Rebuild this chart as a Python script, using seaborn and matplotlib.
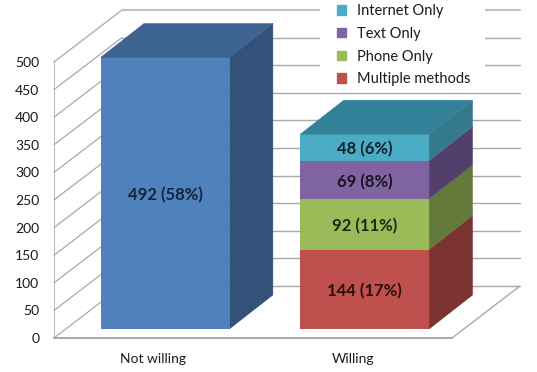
#Import Libraries
import numpy as np
import matplotlib
matplotlib.use("Agg")
import matplotlib.pyplot as plt
import seaborn as sns
from matplotlib.patches import Patch, Polygon, Rectangle

#Chart values
categories = ["Not willing", "Willing"]
not_willing = [492]
not_willing_labels = ["492 (58%)"]
layer_names = ["Multiple methods", "Phone Only", "Text Only", "Internet Only"]
layer_values = [144, 92, 69, 48]
layer_labels = ["144 (17%)", "92 (11%)", "69 (8%)", "48 (6%)"]
y_ticks = [0, 50, 100, 150, 200, 250, 300, 350, 400, 450, 500]

#Colours: front, side, top
blue = ("#4F81BD", "#33527A", "#3D6391")
layer_colors = [
    ("#C0504D", "#7A3331", "#7A3331"),
    ("#9BBB59", "#647A3A", "#647A3A"),
    ("#8064A2", "#533F6B", "#533F6B"),
    ("#4BACC6", "#337A8D", "#338199"),
]
grid_color = "#A8A8A8"

sns.set_theme(style="white")
plt.rcParams["font.family"] = ["Lato", "DejaVu Sans"]

W, H = 537, 372
fig = plt.figure(figsize=(W / 100, H / 100), dpi=100)
#plot box in pixels: left wall front edge to right end of back wall
ax = fig.add_axes([54 / W, 1 - 338 / H, (520 - 54) / W, (338 - 10) / H])

#scales (pixels per unit), the fake 3D depth is given in pixels
sx = 199.7
sy = 0.552
x_lim = ((54 - 165) / sx, (520 - 165) / sx)
y_lim = (0, (338 - 10) / sy)

wall_dx = 68 / sx
wall_dy = 52 / sy
gap_dx = 12 / sx
gap_dy = 9 / sy
bar_dx = 43.5 / sx
bar_dy = 34 / sy

#Bars: the front faces
bar_width = 0.645
sns.barplot(x=categories[:1], y=not_willing, order=categories, color=blue[0],
            width=bar_width, saturation=1, bottom=gap_dy, ax=ax, zorder=3, linewidth=0)
base = gap_dy
for value, colors in zip(layer_values, layer_colors):
    sns.barplot(x=categories[1:], y=[value], order=categories, color=colors[0],
                width=bar_width, saturation=1, bottom=base, ax=ax, zorder=3, linewidth=0)
    base += value

ax.set_xlim(x_lim)
ax.set_ylim(y_lim)

#Side and top faces, taken from the bars that were drawn
face_colors = [blue] + layer_colors
bars = [p for p in ax.patches if p.get_height() > 0]
for i, (bar, colors) in enumerate(zip(bars, face_colors)):
    x0 = bar.get_x()
    x1 = x0 + bar.get_width()
    y0 = bar.get_y()
    y1 = y0 + bar.get_height()
    side = [(x1, y0), (x1 + bar_dx, y0 + bar_dy), (x1 + bar_dx, y1 + bar_dy), (x1, y1)]
    ax.add_patch(Polygon(side, closed=True, fc=colors[1], ec=colors[1], lw=0.3,
                         zorder=3 + i * 0.1, clip_on=False))
    if i == 0 or i == len(bars) - 1:
        top = [(x0, y1), (x0 + bar_dx, y1 + bar_dy), (x1 + bar_dx, y1 + bar_dy), (x1, y1)]
        ax.add_patch(Polygon(top, closed=True, fc=colors[2], ec=colors[2], lw=0.3,
                             zorder=3.5, clip_on=False))

#Value labels in the middle of each front face (2 px low, as in the picture)
texts = not_willing_labels + layer_labels
text_colors = ["#14233A", "#2A0F0E", "#1F2612", "#191420", "#0F2228"]
for bar, label, c in zip(bars, texts, text_colors):
    ax.text(bar.get_x() + bar.get_width() / 2, bar.get_y() + bar.get_height() / 2 - 2 / sy, label,
            ha="center", va="center", fontsize=12, fontweight="bold", color=c, zorder=6)

#Walls and floor
x_left, x_right = x_lim
x_back = x_left + wall_dx
x_floor = x_right - wall_dx
for tick in y_ticks:
    lw = 1.6 if tick == 500 else 1.0
    color = "#C4C4C4" if tick == 500 else grid_color
    ax.plot([x_left, x_back], [tick, tick + wall_dy], color=grid_color, lw=0.9, zorder=1, clip_on=False)
    ax.plot([x_back, x_right], [tick + wall_dy, tick + wall_dy], color=color, lw=lw, zorder=1, clip_on=False)
ax.plot([x_left, x_left], [0, 500], color=grid_color, lw=1.1, zorder=1)
ax.plot([x_left, x_floor], [0, 0], color=grid_color, lw=1.4, zorder=1, clip_on=False)
ax.plot([x_floor, x_right], [0, wall_dy], color=grid_color, lw=1.0, zorder=1)

#Axis text
sns.despine(ax=ax, left=True, bottom=True)
ax.set_yticks(y_ticks)
ax.set_xticks(np.arange(len(categories)) - gap_dx, categories)
ax.tick_params(axis="y", length=0, pad=10.5, labelsize=10, labelcolor="#1A1A1A")
ax.tick_params(axis="x", length=0, pad=11, labelsize=10, labelcolor="#1A1A1A")
for t in ax.get_yticklabels():
    t.set_verticalalignment("center_baseline")
ax.set_xlabel("")
ax.set_ylabel("")
ax.grid(False)
ax.patch.set_alpha(0)

#White box that hides the wall lines behind the legend
ax.add_patch(Rectangle((320 / W, 1 - 88 / H), 165 / W, 88 / H, transform=fig.transFigure,
                       fc="white", ec="none", zorder=2, clip_on=False))
handles = [Patch(color=c[0]) for c in layer_colors[::-1]]
leg = ax.legend(handles, layer_names[::-1], loc="upper left",
                bbox_to_anchor=(337 / W, 1 - 4 / H), bbox_transform=fig.transFigure,
                frameon=False, fontsize=10.5, handlelength=0.62, handleheight=0.62,
                handletextpad=0.75, labelspacing=0.6, borderpad=0, borderaxespad=0)
leg.set_zorder(5)
for t in leg.get_texts():
    t.set_color("#1A1A1A")

fig.savefig("out.png", dpi=100)
